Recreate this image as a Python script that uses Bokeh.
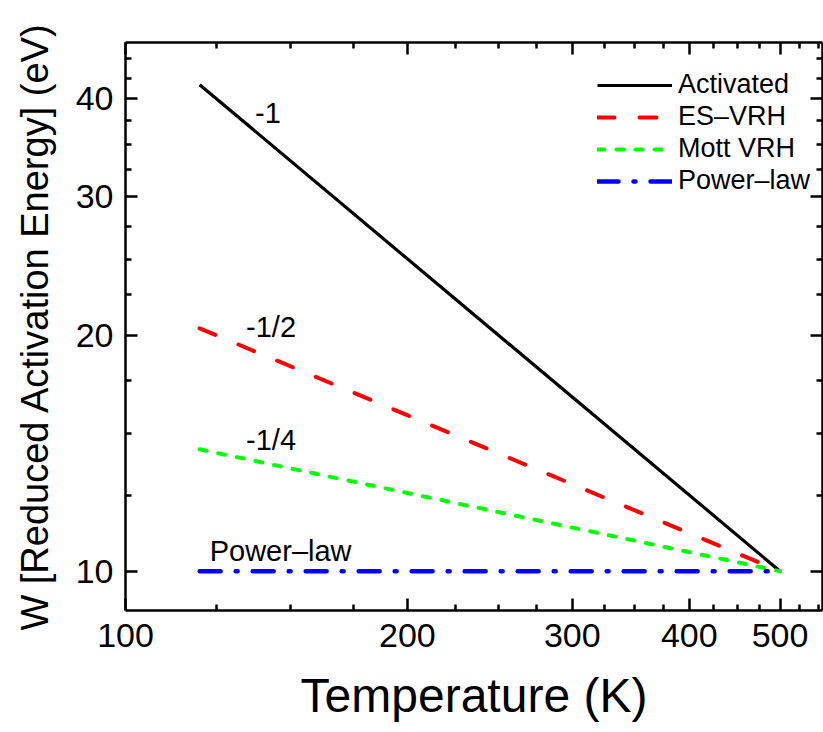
from bokeh.plotting import figure
from bokeh.models import (Range1d, FixedTicker, LogAxis, PrintfTickFormatter,
                          CustomJSTickFormatter, Legend, LegendItem)
from bokeh.core.properties import value
from bokeh.embed import file_html
from bokeh.resources import INLINE

# ---- data ----
temps = [120, 500]
w_activated = [41.7, 10.0]
w_es_vrh = [20.4, 10.0]
w_mott = [14.3, 10.0]
w_power = [10.0, 10.0]

series_names = ["Activated", "ES\u2013VRH", "Mott VRH", "Power\u2013law"]

ann_text = ["-1", "-1/2", "-1/4", "Power\u2013law"]
ann_x = [137.5, 134.5, 134.5, 123.0]
ann_y = [38.4, 20.45, 14.7, 10.6]

x_major = [100, 200, 300, 400, 500]
x_minor = [125, 150, 175, 225, 250, 275, 325, 350, 375, 425, 450, 475, 525, 550]
y_major = [10, 20, 30, 40]
y_minor = [12.5, 15, 17.5, 22.5, 25, 27.5, 32.5, 35, 37.5, 42.5, 45]

FONT = "Liberation Sans"

p = figure(width=823, height=732, x_axis_type="log", y_axis_type="log",
           x_range=Range1d(100, 555), y_range=Range1d(8.91, 47.2),
           output_backend="svg", toolbar_location=None,
           min_border_left=125, min_border_right=1,
           min_border_top=42, min_border_bottom=122)
p.grid.visible = False
p.outline_line_color = None
p.background_fill_color = "white"
p.border_fill_color = "white"

xt = FixedTicker(ticks=x_major, minor_ticks=x_minor)
yt = FixedTicker(ticks=y_major, minor_ticks=y_minor)


def style_axis(ax, labels=True):
    ax.axis_line_width = 2.5
    ax.axis_line_color = "black"
    ax.major_tick_in = 12
    ax.major_tick_out = 0
    ax.minor_tick_in = 6
    ax.minor_tick_out = 0
    ax.major_tick_line_width = 2.5
    ax.minor_tick_line_width = 2.5
    ax.major_tick_line_color = "black"
    ax.minor_tick_line_color = "black"
    ax.major_label_text_font = FONT
    ax.major_label_text_color = "black"
    if not labels:
        ax.major_label_text_font_size = "1px"
        ax.major_label_standoff = 0


xa = p.xaxis[0]
xa.ticker = xt
xa.formatter = PrintfTickFormatter(format="%d")
style_axis(xa)
xa.major_label_text_font_size = "34px"
xa.major_label_standoff = 13
xa.axis_label = "Temperature (K)"
xa.axis_label_text_font = FONT
xa.axis_label_text_font_size = "48px"
xa.axis_label_text_font_style = "normal"
xa.axis_label_text_color = "black"
xa.axis_label_standoff = 19

ya = p.yaxis[0]
ya.ticker = yt
ya.formatter = PrintfTickFormatter(format="%d")
style_axis(ya)
ya.major_label_text_font_size = "34px"
ya.major_label_standoff = 12
ya.axis_label = "W [Reduced Activation Energy] (eV)"
ya.axis_label_text_font = FONT
ya.axis_label_text_font_size = "38px"
ya.axis_label_text_font_style = "normal"
ya.axis_label_text_color = "black"
ya.axis_label_standoff = 17

blank = CustomJSTickFormatter(code="return ''")
top = LogAxis(ticker=xt, formatter=blank)
style_axis(top, labels=False)
p.add_layout(top, "above")
right = LogAxis(ticker=yt, formatter=blank)
style_axis(right, labels=False)
p.add_layout(right, "right")

r1 = p.line(temps, w_activated, line_color="black", line_width=3.2)
r2 = p.line(temps, w_es_vrh, line_color="#ff0000", line_width=4,
            line_dash="17 25", line_cap="round")
r3 = p.line(temps, w_mott, line_color="#00ff00", line_width=4,
            line_dash="7 12", line_cap="round")
r4 = p.line(temps, w_power, line_color="#0000ff", line_width=4.5,
            line_dash="21 15 2 15", line_cap="round")

p.text(x=ann_x, y=ann_y, text=ann_text, text_font=value(FONT),
       text_font_size="29px", text_color="black",
       text_align="left", text_baseline="alphabetic")

legend = Legend(items=[LegendItem(label=series_names[0], renderers=[r1]),
                       LegendItem(label=series_names[1], renderers=[r2]),
                       LegendItem(label=series_names[2], renderers=[r3]),
                       LegendItem(label=series_names[3], renderers=[r4])],
                location=(472, 414))
legend.label_text_font = FONT
legend.label_text_font_size = "27px"
legend.label_text_color = "black"
legend.glyph_width = 75
legend.glyph_height = 26
legend.label_height = 26
legend.label_standoff = 6
legend.spacing = 1
legend.padding = 0
legend.margin = 0
legend.border_line_color = None
legend.background_fill_alpha = 0
p.add_layout(legend)

open("out.html", "w").write(file_html(p, INLINE))
